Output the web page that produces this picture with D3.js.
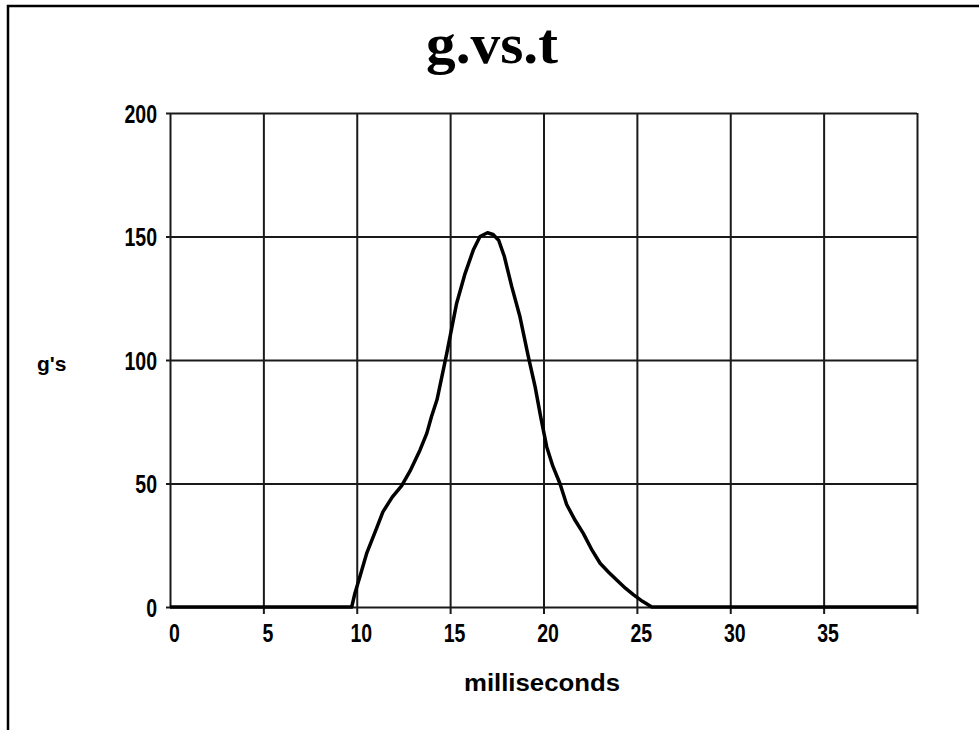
<!DOCTYPE html>
<html>
<head>
<meta charset="utf-8">
<script src="https://cdn.jsdelivr.net/npm/d3@7"></script>
<style>
  body { margin: 0; background: #fff; }
  svg { display: block; }
  .tick text { font-family: "Liberation Sans", Arial, sans-serif; font-weight: bold; fill: #000; }
</style>
</head>
<body>
<svg id="chart" width="979" height="730"></svg>
<script>
// time in milliseconds, acceleration in g's
var times = [0, 5, 9.3, 9.73, 9.9, 10.17, 10.53, 11.07, 11.4, 11.9, 12.4, 12.85, 13.39, 13.75, 14.0, 14.3,
             14.82, 15.35, 15.8, 16.24, 16.6, 17.0, 17.3, 17.6, 17.9, 18.3, 18.74, 19.19, 19.55, 19.85,
             20.17, 20.5, 20.88, 21.24, 21.7, 22.13, 22.6, 23.03, 23.5, 23.92, 24.4, 24.81, 25.3, 25.8, 30, 35, 40];
var gs = [0, 0, 0, 0, 5.5, 12.3, 21.7, 32, 38.5, 44.5, 49, 55, 63.6, 70.3, 77, 84,
          102.7, 123, 135, 144.5, 150, 151.5, 150.8, 148.5, 142, 129.7, 117.5, 101.3, 89.2, 77,
          64.9, 57, 50, 41.5, 35, 29.8, 23, 17.7, 14, 10.9, 7.5, 5, 2.3, 0, 0, 0, 0];
var xTicks = [0, 5, 10, 15, 20, 25, 30, 35, 40];
var yTicks = [0, 50, 100, 150, 200];

var svg = d3.select("#chart");
var plotLeft = 170, plotRight = 917, plotTop = 113, plotBottom = 607;

var x = d3.scaleLinear().domain([0, 40]).range([plotLeft, plotRight]);
var y = d3.scaleLinear().domain([0, 200]).range([plotBottom, plotTop]);

// frame (only top and left edges show)
svg.append("path")
  .attr("d", "M8,730 L8,6 L979,6")
  .attr("fill", "none").attr("stroke", "#000").attr("stroke-width", 2.5);

// x grid + labels
var gx = svg.append("g")
  .attr("transform", "translate(0," + plotBottom + ")")
  .call(d3.axisBottom(x).tickValues(xTicks)
    .tickFormat(function(d) { return d === 40 ? "" : d; })
    .tickSizeOuter(0));
gx.select(".domain").remove();
gx.selectAll(".tick line")
  .attr("y1", function(d) { return d === 0 ? 0 : 7; })
  .attr("y2", -(plotBottom - plotTop))
  .attr("stroke", "#1a1a1a").attr("stroke-width", 2);
gx.selectAll(".tick text")
  .attr("y", 0).attr("dy", 0)
  .attr("font-size", 25)
  .attr("transform", "translate(4,35) scale(0.78,1)");

// y grid + labels
var gy = svg.append("g")
  .attr("transform", "translate(" + plotLeft + ",0)")
  .call(d3.axisLeft(y).tickValues(yTicks).tickSizeOuter(0));
gy.select(".domain").remove();
gy.selectAll(".tick line")
  .attr("x1", -4).attr("x2", plotRight - plotLeft)
  .attr("stroke", "#1a1a1a").attr("stroke-width", 2);
gy.selectAll(".tick text")
  .attr("x", 0).attr("dy", 0)
  .attr("font-size", 25)
  .attr("transform", "translate(-13,9) scale(0.78,1)");

// the curve
var line = d3.line()
  .x(function(d, i) { return x(times[i]); })
  .y(function(d) { return y(d); });
svg.append("path")
  .datum(gs)
  .attr("d", line)
  .attr("fill", "none")
  .attr("stroke", "#000")
  .attr("stroke-width", 3.5)
  .attr("stroke-linejoin", "round");

// title and axis titles
svg.append("text")
  .attr("x", 492).attr("y", 63)
  .attr("text-anchor", "middle")
  .attr("font-family", "'Liberation Serif', 'Times New Roman', serif")
  .attr("font-weight", "bold").attr("font-size", 56)
  .attr("textLength", 132).attr("lengthAdjust", "spacingAndGlyphs")
  .text("g.vs.t");

svg.append("text")
  .attr("x", 37).attr("y", 371)
  .attr("font-family", "'Liberation Sans', Arial, sans-serif")
  .attr("font-weight", "bold").attr("font-size", 21)
  .text("g's");

svg.append("text")
  .attr("x", 542).attr("y", 691)
  .attr("text-anchor", "middle")
  .attr("font-family", "'Liberation Sans', Arial, sans-serif")
  .attr("font-weight", "bold").attr("font-size", 23)
  .attr("textLength", 156).attr("lengthAdjust", "spacingAndGlyphs")
  .text("milliseconds");
</script>
</body>
</html>
